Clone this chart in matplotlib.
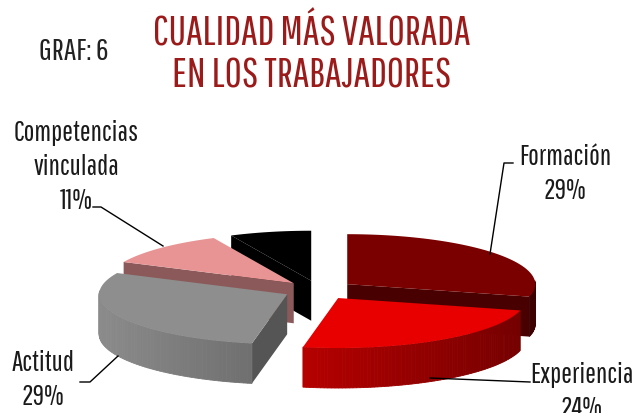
import numpy as np
import matplotlib.pyplot as plt
from matplotlib.patches import Polygon
from matplotlib.colors import to_rgb

titulo = ['CUALIDAD MÁS VALORADA', 'EN LOS TRABAJADORES']
etiquetas = ['Formación', 'Experiencia', 'Actitud', 'Competencias\nvinculada', '']
valores = [29, 24, 29, 11, 7]
colores = ['#7a0000', '#e80000', '#8e8e8e', '#e89494', '#000000']

plt.rcParams['font.family'] = ['Pathway Gothic One', 'DejaVu Sans']

fig = plt.figure(figsize=(6.37, 4.14), dpi=100)
ax = fig.add_axes([0, 0, 1, 1])
ax.set_xlim(0, 637)
ax.set_ylim(414, 0)
ax.axis('off')

# geometria del pastel 3D (en pixeles)
cx, cy = 319, 291
rx, ry = 188, 50
prof = 40
expl = 0.19


def oscuro(c, f):
    r, g, b = to_rgb(c)
    return (min(r * f, 1), min(g * f, 1), min(b * f, 1))


total = sum(valores)
inicio = 90.0
porciones = []
for v, c in zip(valores, colores):
    a1 = np.radians(inicio)
    a0 = np.radians(inicio - v / total * 360)
    inicio -= v / total * 360
    mid = (a0 + a1) / 2
    dx = expl * rx * np.cos(mid)
    dy = -expl * ry * np.sin(mid)
    porciones.append((a0, a1, mid, dx, dy, c))

# de atras hacia adelante
for a0, a1, mid, dx, dy, c in sorted(porciones, key=lambda p: -np.sin(p[2])):
    x0, y0 = cx + dx, cy + dy
    t = np.linspace(a0, a1, 80)
    xs = x0 + rx * np.cos(t)
    ys = y0 - ry * np.sin(t)
    # caras de corte
    for a, n in ((a1, a1 + np.pi / 2), (a0, a0 - np.pi / 2)):
        if np.sin(n) < 0:
            xr, yr = x0 + rx * np.cos(a), y0 - ry * np.sin(a)
            ax.add_patch(Polygon([(x0, y0), (xr, yr), (xr, yr + prof), (x0, y0 + prof)],
                                 closed=True, fc=oscuro(c, 0.6), ec='none'))
    # pared exterior con sombreado
    for i in range(len(t) - 1):
        if np.sin(t[i]) > 0.05 and np.sin(t[i + 1]) > 0.05:
            continue
        f = 0.74 - 0.24 * np.cos((t[i] + t[i + 1]) / 2)
        ax.add_patch(Polygon([(xs[i], ys[i]), (xs[i + 1], ys[i + 1]),
                              (xs[i + 1], ys[i + 1] + prof), (xs[i], ys[i] + prof)],
                             closed=True, fc=oscuro(c, f), ec=oscuro(c, f), lw=0.6))
    # cara superior
    ax.add_patch(Polygon(np.column_stack([np.r_[x0, xs], np.r_[y0, ys]]),
                         closed=True, fc=c, ec='none'))

# titulos
ax.text(74, 52, 'GRAF: 6', fontsize=22.5, color='#222222', ha='center', va='center')
ax.text(312, 33, titulo[0], fontsize=30, color='#9b1b1b', ha='center', va='center')
ax.text(312, 75, titulo[1], fontsize=30, color='#9b1b1b', ha='center', va='center')

# etiquetas (nombre + porcentaje), una linea cada vez
pos = [(565, 157), (582, 375), (43, 363), (76, 133)]
paso = 34
for (x, y), nom, v in zip(pos, etiquetas, valores):
    lineas = nom.split('\n') + [f'{v}%']
    for k, ln in enumerate(lineas):
        ax.text(x, y + k * paso, ln, fontsize=20.5, color='#1a1a1a', ha='center', va='center')

# lineas guia
ax.plot([490, 504, 513], [255, 164, 164], color='black', lw=1)
ax.plot([430, 530], [379, 383], color='black', lw=1)
ax.plot([80, 90, 118], [383, 383, 357], color='black', lw=1)
ax.plot([93, 101, 163], [208, 208, 247], color='black', lw=1)

fig.savefig('out.png', dpi=100)
